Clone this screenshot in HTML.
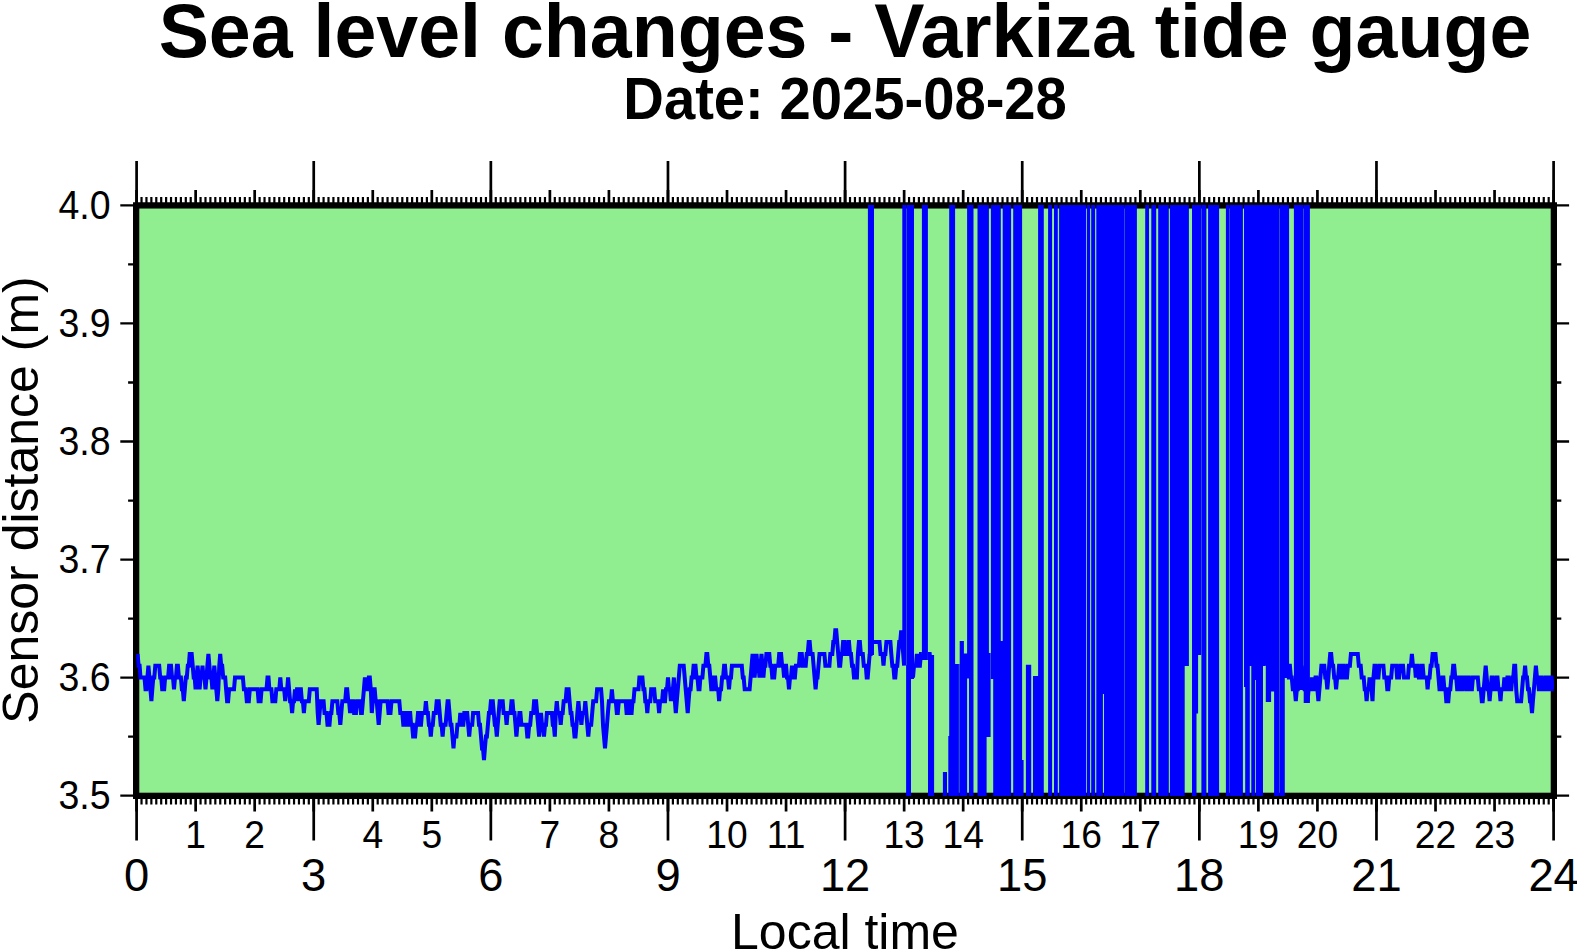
<!DOCTYPE html>
<html lang="en"><head><meta charset="utf-8"><title>Sea level changes - Varkiza tide gauge</title>
<style>html,body{margin:0;padding:0;background:#fff;overflow:hidden}svg{display:block}text{font-family:"Liberation Sans",Arial,Helvetica,sans-serif;fill:#000}</style></head><body>
<svg width="1577" height="950" viewBox="0 0 1577 950">
<rect width="1577" height="950" fill="#fff"/>
<!-- plot background -->
<rect x="136.6" y="205.3" width="1417.0" height="590.3" fill="#90ee90"/>
<!-- x-axis ticks: 5 min, 1 h, 3 h -->
<path d="M141.52 205.65v-8.6M141.52 795.95v8.6M146.44 205.65v-8.6M146.44 795.95v8.6M151.36 205.65v-8.6M151.36 795.95v8.6M156.28 205.65v-8.6M156.28 795.95v8.6M161.20 205.65v-8.6M161.20 795.95v8.6M166.12 205.65v-8.6M166.12 795.95v8.6M171.04 205.65v-8.6M171.04 795.95v8.6M175.96 205.65v-8.6M175.96 795.95v8.6M180.88 205.65v-8.6M180.88 795.95v8.6M185.80 205.65v-8.6M185.80 795.95v8.6M190.72 205.65v-8.6M190.72 795.95v8.6M200.56 205.65v-8.6M200.56 795.95v8.6M205.48 205.65v-8.6M205.48 795.95v8.6M210.40 205.65v-8.6M210.40 795.95v8.6M215.32 205.65v-8.6M215.32 795.95v8.6M220.24 205.65v-8.6M220.24 795.95v8.6M225.16 205.65v-8.6M225.16 795.95v8.6M230.08 205.65v-8.6M230.08 795.95v8.6M235.00 205.65v-8.6M235.00 795.95v8.6M239.92 205.65v-8.6M239.92 795.95v8.6M244.84 205.65v-8.6M244.84 795.95v8.6M249.76 205.65v-8.6M249.76 795.95v8.6M259.60 205.65v-8.6M259.60 795.95v8.6M264.52 205.65v-8.6M264.52 795.95v8.6M269.44 205.65v-8.6M269.44 795.95v8.6M274.36 205.65v-8.6M274.36 795.95v8.6M279.28 205.65v-8.6M279.28 795.95v8.6M284.20 205.65v-8.6M284.20 795.95v8.6M289.12 205.65v-8.6M289.12 795.95v8.6M294.04 205.65v-8.6M294.04 795.95v8.6M298.96 205.65v-8.6M298.96 795.95v8.6M303.88 205.65v-8.6M303.88 795.95v8.6M308.80 205.65v-8.6M308.80 795.95v8.6M318.65 205.65v-8.6M318.65 795.95v8.6M323.57 205.65v-8.6M323.57 795.95v8.6M328.49 205.65v-8.6M328.49 795.95v8.6M333.41 205.65v-8.6M333.41 795.95v8.6M338.33 205.65v-8.6M338.33 795.95v8.6M343.25 205.65v-8.6M343.25 795.95v8.6M348.17 205.65v-8.6M348.17 795.95v8.6M353.09 205.65v-8.6M353.09 795.95v8.6M358.01 205.65v-8.6M358.01 795.95v8.6M362.93 205.65v-8.6M362.93 795.95v8.6M367.85 205.65v-8.6M367.85 795.95v8.6M377.69 205.65v-8.6M377.69 795.95v8.6M382.61 205.65v-8.6M382.61 795.95v8.6M387.53 205.65v-8.6M387.53 795.95v8.6M392.45 205.65v-8.6M392.45 795.95v8.6M397.37 205.65v-8.6M397.37 795.95v8.6M402.29 205.65v-8.6M402.29 795.95v8.6M407.21 205.65v-8.6M407.21 795.95v8.6M412.13 205.65v-8.6M412.13 795.95v8.6M417.05 205.65v-8.6M417.05 795.95v8.6M421.97 205.65v-8.6M421.97 795.95v8.6M426.89 205.65v-8.6M426.89 795.95v8.6M436.73 205.65v-8.6M436.73 795.95v8.6M441.65 205.65v-8.6M441.65 795.95v8.6M446.57 205.65v-8.6M446.57 795.95v8.6M451.49 205.65v-8.6M451.49 795.95v8.6M456.41 205.65v-8.6M456.41 795.95v8.6M461.33 205.65v-8.6M461.33 795.95v8.6M466.25 205.65v-8.6M466.25 795.95v8.6M471.17 205.65v-8.6M471.17 795.95v8.6M476.09 205.65v-8.6M476.09 795.95v8.6M481.01 205.65v-8.6M481.01 795.95v8.6M485.93 205.65v-8.6M485.93 795.95v8.6M495.77 205.65v-8.6M495.77 795.95v8.6M500.69 205.65v-8.6M500.69 795.95v8.6M505.61 205.65v-8.6M505.61 795.95v8.6M510.53 205.65v-8.6M510.53 795.95v8.6M515.45 205.65v-8.6M515.45 795.95v8.6M520.37 205.65v-8.6M520.37 795.95v8.6M525.29 205.65v-8.6M525.29 795.95v8.6M530.21 205.65v-8.6M530.21 795.95v8.6M535.13 205.65v-8.6M535.13 795.95v8.6M540.05 205.65v-8.6M540.05 795.95v8.6M544.97 205.65v-8.6M544.97 795.95v8.6M554.81 205.65v-8.6M554.81 795.95v8.6M559.73 205.65v-8.6M559.73 795.95v8.6M564.65 205.65v-8.6M564.65 795.95v8.6M569.57 205.65v-8.6M569.57 795.95v8.6M574.49 205.65v-8.6M574.49 795.95v8.6M579.41 205.65v-8.6M579.41 795.95v8.6M584.33 205.65v-8.6M584.33 795.95v8.6M589.25 205.65v-8.6M589.25 795.95v8.6M594.17 205.65v-8.6M594.17 795.95v8.6M599.09 205.65v-8.6M599.09 795.95v8.6M604.01 205.65v-8.6M604.01 795.95v8.6M613.85 205.65v-8.6M613.85 795.95v8.6M618.77 205.65v-8.6M618.77 795.95v8.6M623.69 205.65v-8.6M623.69 795.95v8.6M628.61 205.65v-8.6M628.61 795.95v8.6M633.53 205.65v-8.6M633.53 795.95v8.6M638.45 205.65v-8.6M638.45 795.95v8.6M643.37 205.65v-8.6M643.37 795.95v8.6M648.29 205.65v-8.6M648.29 795.95v8.6M653.21 205.65v-8.6M653.21 795.95v8.6M658.13 205.65v-8.6M658.13 795.95v8.6M663.05 205.65v-8.6M663.05 795.95v8.6M672.90 205.65v-8.6M672.90 795.95v8.6M677.82 205.65v-8.6M677.82 795.95v8.6M682.74 205.65v-8.6M682.74 795.95v8.6M687.66 205.65v-8.6M687.66 795.95v8.6M692.58 205.65v-8.6M692.58 795.95v8.6M697.50 205.65v-8.6M697.50 795.95v8.6M702.42 205.65v-8.6M702.42 795.95v8.6M707.34 205.65v-8.6M707.34 795.95v8.6M712.26 205.65v-8.6M712.26 795.95v8.6M717.18 205.65v-8.6M717.18 795.95v8.6M722.10 205.65v-8.6M722.10 795.95v8.6M731.94 205.65v-8.6M731.94 795.95v8.6M736.86 205.65v-8.6M736.86 795.95v8.6M741.78 205.65v-8.6M741.78 795.95v8.6M746.70 205.65v-8.6M746.70 795.95v8.6M751.62 205.65v-8.6M751.62 795.95v8.6M756.54 205.65v-8.6M756.54 795.95v8.6M761.46 205.65v-8.6M761.46 795.95v8.6M766.38 205.65v-8.6M766.38 795.95v8.6M771.30 205.65v-8.6M771.30 795.95v8.6M776.22 205.65v-8.6M776.22 795.95v8.6M781.14 205.65v-8.6M781.14 795.95v8.6M790.98 205.65v-8.6M790.98 795.95v8.6M795.90 205.65v-8.6M795.90 795.95v8.6M800.82 205.65v-8.6M800.82 795.95v8.6M805.74 205.65v-8.6M805.74 795.95v8.6M810.66 205.65v-8.6M810.66 795.95v8.6M815.58 205.65v-8.6M815.58 795.95v8.6M820.50 205.65v-8.6M820.50 795.95v8.6M825.42 205.65v-8.6M825.42 795.95v8.6M830.34 205.65v-8.6M830.34 795.95v8.6M835.26 205.65v-8.6M835.26 795.95v8.6M840.18 205.65v-8.6M840.18 795.95v8.6M850.02 205.65v-8.6M850.02 795.95v8.6M854.94 205.65v-8.6M854.94 795.95v8.6M859.86 205.65v-8.6M859.86 795.95v8.6M864.78 205.65v-8.6M864.78 795.95v8.6M869.70 205.65v-8.6M869.70 795.95v8.6M874.62 205.65v-8.6M874.62 795.95v8.6M879.54 205.65v-8.6M879.54 795.95v8.6M884.46 205.65v-8.6M884.46 795.95v8.6M889.38 205.65v-8.6M889.38 795.95v8.6M894.30 205.65v-8.6M894.30 795.95v8.6M899.22 205.65v-8.6M899.22 795.95v8.6M909.06 205.65v-8.6M909.06 795.95v8.6M913.98 205.65v-8.6M913.98 795.95v8.6M918.90 205.65v-8.6M918.90 795.95v8.6M923.82 205.65v-8.6M923.82 795.95v8.6M928.74 205.65v-8.6M928.74 795.95v8.6M933.66 205.65v-8.6M933.66 795.95v8.6M938.58 205.65v-8.6M938.58 795.95v8.6M943.50 205.65v-8.6M943.50 795.95v8.6M948.42 205.65v-8.6M948.42 795.95v8.6M953.34 205.65v-8.6M953.34 795.95v8.6M958.26 205.65v-8.6M958.26 795.95v8.6M968.10 205.65v-8.6M968.10 795.95v8.6M973.02 205.65v-8.6M973.02 795.95v8.6M977.94 205.65v-8.6M977.94 795.95v8.6M982.86 205.65v-8.6M982.86 795.95v8.6M987.78 205.65v-8.6M987.78 795.95v8.6M992.70 205.65v-8.6M992.70 795.95v8.6M997.62 205.65v-8.6M997.62 795.95v8.6M1002.54 205.65v-8.6M1002.54 795.95v8.6M1007.46 205.65v-8.6M1007.46 795.95v8.6M1012.38 205.65v-8.6M1012.38 795.95v8.6M1017.30 205.65v-8.6M1017.30 795.95v8.6M1027.15 205.65v-8.6M1027.15 795.95v8.6M1032.07 205.65v-8.6M1032.07 795.95v8.6M1036.99 205.65v-8.6M1036.99 795.95v8.6M1041.91 205.65v-8.6M1041.91 795.95v8.6M1046.83 205.65v-8.6M1046.83 795.95v8.6M1051.75 205.65v-8.6M1051.75 795.95v8.6M1056.67 205.65v-8.6M1056.67 795.95v8.6M1061.59 205.65v-8.6M1061.59 795.95v8.6M1066.51 205.65v-8.6M1066.51 795.95v8.6M1071.43 205.65v-8.6M1071.43 795.95v8.6M1076.35 205.65v-8.6M1076.35 795.95v8.6M1086.19 205.65v-8.6M1086.19 795.95v8.6M1091.11 205.65v-8.6M1091.11 795.95v8.6M1096.03 205.65v-8.6M1096.03 795.95v8.6M1100.95 205.65v-8.6M1100.95 795.95v8.6M1105.87 205.65v-8.6M1105.87 795.95v8.6M1110.79 205.65v-8.6M1110.79 795.95v8.6M1115.71 205.65v-8.6M1115.71 795.95v8.6M1120.63 205.65v-8.6M1120.63 795.95v8.6M1125.55 205.65v-8.6M1125.55 795.95v8.6M1130.47 205.65v-8.6M1130.47 795.95v8.6M1135.39 205.65v-8.6M1135.39 795.95v8.6M1145.23 205.65v-8.6M1145.23 795.95v8.6M1150.15 205.65v-8.6M1150.15 795.95v8.6M1155.07 205.65v-8.6M1155.07 795.95v8.6M1159.99 205.65v-8.6M1159.99 795.95v8.6M1164.91 205.65v-8.6M1164.91 795.95v8.6M1169.83 205.65v-8.6M1169.83 795.95v8.6M1174.75 205.65v-8.6M1174.75 795.95v8.6M1179.67 205.65v-8.6M1179.67 795.95v8.6M1184.59 205.65v-8.6M1184.59 795.95v8.6M1189.51 205.65v-8.6M1189.51 795.95v8.6M1194.43 205.65v-8.6M1194.43 795.95v8.6M1204.27 205.65v-8.6M1204.27 795.95v8.6M1209.19 205.65v-8.6M1209.19 795.95v8.6M1214.11 205.65v-8.6M1214.11 795.95v8.6M1219.03 205.65v-8.6M1219.03 795.95v8.6M1223.95 205.65v-8.6M1223.95 795.95v8.6M1228.87 205.65v-8.6M1228.87 795.95v8.6M1233.79 205.65v-8.6M1233.79 795.95v8.6M1238.71 205.65v-8.6M1238.71 795.95v8.6M1243.63 205.65v-8.6M1243.63 795.95v8.6M1248.55 205.65v-8.6M1248.55 795.95v8.6M1253.47 205.65v-8.6M1253.47 795.95v8.6M1263.31 205.65v-8.6M1263.31 795.95v8.6M1268.23 205.65v-8.6M1268.23 795.95v8.6M1273.15 205.65v-8.6M1273.15 795.95v8.6M1278.07 205.65v-8.6M1278.07 795.95v8.6M1282.99 205.65v-8.6M1282.99 795.95v8.6M1287.91 205.65v-8.6M1287.91 795.95v8.6M1292.83 205.65v-8.6M1292.83 795.95v8.6M1297.75 205.65v-8.6M1297.75 795.95v8.6M1302.67 205.65v-8.6M1302.67 795.95v8.6M1307.59 205.65v-8.6M1307.59 795.95v8.6M1312.51 205.65v-8.6M1312.51 795.95v8.6M1322.35 205.65v-8.6M1322.35 795.95v8.6M1327.27 205.65v-8.6M1327.27 795.95v8.6M1332.19 205.65v-8.6M1332.19 795.95v8.6M1337.11 205.65v-8.6M1337.11 795.95v8.6M1342.03 205.65v-8.6M1342.03 795.95v8.6M1346.95 205.65v-8.6M1346.95 795.95v8.6M1351.87 205.65v-8.6M1351.87 795.95v8.6M1356.79 205.65v-8.6M1356.79 795.95v8.6M1361.71 205.65v-8.6M1361.71 795.95v8.6M1366.63 205.65v-8.6M1366.63 795.95v8.6M1371.55 205.65v-8.6M1371.55 795.95v8.6M1381.40 205.65v-8.6M1381.40 795.95v8.6M1386.32 205.65v-8.6M1386.32 795.95v8.6M1391.24 205.65v-8.6M1391.24 795.95v8.6M1396.16 205.65v-8.6M1396.16 795.95v8.6M1401.08 205.65v-8.6M1401.08 795.95v8.6M1406.00 205.65v-8.6M1406.00 795.95v8.6M1410.92 205.65v-8.6M1410.92 795.95v8.6M1415.84 205.65v-8.6M1415.84 795.95v8.6M1420.76 205.65v-8.6M1420.76 795.95v8.6M1425.68 205.65v-8.6M1425.68 795.95v8.6M1430.60 205.65v-8.6M1430.60 795.95v8.6M1440.44 205.65v-8.6M1440.44 795.95v8.6M1445.36 205.65v-8.6M1445.36 795.95v8.6M1450.28 205.65v-8.6M1450.28 795.95v8.6M1455.20 205.65v-8.6M1455.20 795.95v8.6M1460.12 205.65v-8.6M1460.12 795.95v8.6M1465.04 205.65v-8.6M1465.04 795.95v8.6M1469.96 205.65v-8.6M1469.96 795.95v8.6M1474.88 205.65v-8.6M1474.88 795.95v8.6M1479.80 205.65v-8.6M1479.80 795.95v8.6M1484.72 205.65v-8.6M1484.72 795.95v8.6M1489.64 205.65v-8.6M1489.64 795.95v8.6M1499.48 205.65v-8.6M1499.48 795.95v8.6M1504.40 205.65v-8.6M1504.40 795.95v8.6M1509.32 205.65v-8.6M1509.32 795.95v8.6M1514.24 205.65v-8.6M1514.24 795.95v8.6M1519.16 205.65v-8.6M1519.16 795.95v8.6M1524.08 205.65v-8.6M1524.08 795.95v8.6M1529.00 205.65v-8.6M1529.00 795.95v8.6M1533.92 205.65v-8.6M1533.92 795.95v8.6M1538.84 205.65v-8.6M1538.84 795.95v8.6M1543.76 205.65v-8.6M1543.76 795.95v8.6M1548.68 205.65v-8.6M1548.68 795.95v8.6" stroke="#000" stroke-width="2.2" fill="none"/>
<path d="M195.64 205.65v-15.6M195.64 795.95v15.6M254.68 205.65v-15.6M254.68 795.95v15.6M372.77 205.65v-15.6M372.77 795.95v15.6M431.81 205.65v-15.6M431.81 795.95v15.6M549.89 205.65v-15.6M549.89 795.95v15.6M608.93 205.65v-15.6M608.93 795.95v15.6M727.02 205.65v-15.6M727.02 795.95v15.6M786.06 205.65v-15.6M786.06 795.95v15.6M904.14 205.65v-15.6M904.14 795.95v15.6M963.18 205.65v-15.6M963.18 795.95v15.6M1081.27 205.65v-15.6M1081.27 795.95v15.6M1140.31 205.65v-15.6M1140.31 795.95v15.6M1258.39 205.65v-15.6M1258.39 795.95v15.6M1317.43 205.65v-15.6M1317.43 795.95v15.6M1435.52 205.65v-15.6M1435.52 795.95v15.6M1494.56 205.65v-15.6M1494.56 795.95v15.6M136.60 205.65v-15.6M136.60 795.95v15.6M313.73 205.65v-15.6M313.73 795.95v15.6M490.85 205.65v-15.6M490.85 795.95v15.6M667.98 205.65v-15.6M667.98 795.95v15.6M845.10 205.65v-15.6M845.10 795.95v15.6M1022.23 205.65v-15.6M1022.23 795.95v15.6M1199.35 205.65v-15.6M1199.35 795.95v15.6M1376.47 205.65v-15.6M1376.47 795.95v15.6M1553.60 205.65v-15.6M1553.60 795.95v15.6" stroke="#000" stroke-width="2.7" fill="none"/>
<path d="M136.60 205.65v-44.6M136.60 795.95v44.6M313.73 205.65v-44.6M313.73 795.95v44.6M490.85 205.65v-44.6M490.85 795.95v44.6M667.98 205.65v-44.6M667.98 795.95v44.6M845.10 205.65v-44.6M845.10 795.95v44.6M1022.23 205.65v-44.6M1022.23 795.95v44.6M1199.35 205.65v-44.6M1199.35 795.95v44.6M1376.47 205.65v-44.6M1376.47 795.95v44.6M1553.60 205.65v-44.6M1553.60 795.95v44.6" stroke="#000" stroke-width="2.7" fill="none"/>
<!-- y-axis ticks -->
<path d="M136.6 795.70h-16.3M1553.6 795.70h15.5M136.6 736.67h-8.5M1553.6 736.67h7.7M136.6 677.64h-16.3M1553.6 677.64h15.5M136.6 618.61h-8.5M1553.6 618.61h7.7M136.6 559.58h-16.3M1553.6 559.58h15.5M136.6 500.55h-8.5M1553.6 500.55h7.7M136.6 441.52h-16.3M1553.6 441.52h15.5M136.6 382.49h-8.5M1553.6 382.49h7.7M136.6 323.46h-16.3M1553.6 323.46h15.5M136.6 264.43h-8.5M1553.6 264.43h7.7M136.6 205.40h-16.3M1553.6 205.40h15.5" stroke="#000" stroke-width="2.3" fill="none"/>
<rect x="136.15" y="205.4" width="1417.70" height="590.45" fill="none" stroke="#000" stroke-width="6.3"/>
<!-- sensor data -->
<clipPath id="c"><rect x="136.2" y="204.9" width="1417.8" height="591.1"/></clipPath>
<g clip-path="url(#c)">
<path d="M867.9 203.3H874.0V655.0H867.9zM902.3 203.3H906.3V665.0H902.3zM906.1 665.0H906.9V797.6H906.1zM906.6 203.3H911.0V797.6H906.6zM911.0 203.3H914.0V679.0H911.0zM921.9 203.3H927.9V660.0H921.9zM928.0 655.0H934.1V797.6H928.0zM942.9 772.0H947.0V797.6H942.9zM948.3 736.0H949.2V797.6H948.3zM949.2 203.3H955.1V797.6H949.2zM955.1 664.0H958.9V797.6H955.1zM959.1 664.0H959.5V797.6H959.1zM959.7 641.0H963.9V797.6H959.7zM963.9 653.4H967.1V797.6H963.9zM967.1 203.3H969.0V678.6H967.1zM969.0 203.3H973.5V797.6H969.0zM977.5 203.3H986.6V797.6H977.5zM986.6 203.3H988.9V737.0H986.6zM988.9 653.0H990.6V737.0H988.9zM990.9 203.3H993.2V679.0H990.9zM993.2 203.3H1000.8V797.6H993.2zM1000.8 641.0H1002.7V797.6H1000.8zM1002.7 203.3H1011.1V797.6H1002.7zM1013.2 203.3H1022.1V797.6H1013.2zM1022.1 760.0H1023.6V797.6H1022.1zM1025.9 664.7H1031.2V797.6H1025.9zM1033.0 676.0H1038.1V797.6H1033.0zM1038.1 203.3H1043.8V797.6H1038.1zM1048.1 203.3H1052.1V797.6H1048.1zM1054.0 203.3H1057.8V797.6H1054.0zM1059.1 203.3H1086.0V797.6H1059.1zM1086.8 203.3H1090.1V797.6H1086.8zM1091.3 203.3H1095.1V797.6H1091.3zM1096.3 203.3H1100.0V797.6H1096.3zM1091.2 203.3H1095.0V797.6H1091.2zM1096.4 203.3H1102.9V797.6H1096.4zM1102.9 203.3H1104.0V694.0H1102.9zM1104.0 203.3H1124.2V797.6H1104.0zM1124.5 203.3H1136.9V797.6H1124.5zM1145.2 203.3H1149.0V797.6H1145.2zM1151.3 203.3H1156.2V797.6H1151.3zM1158.2 203.3H1168.8V797.6H1158.2zM1169.9 203.3H1184.7V797.6H1169.9zM1184.7 203.3H1188.9V666.0H1184.7zM1192.0 203.3H1196.5V797.6H1192.0zM1196.5 203.3H1198.1V713.6H1196.5zM1198.1 203.3H1201.1V655.0H1198.1zM1201.1 203.3H1201.7V797.6H1201.1zM1202.0 203.3H1206.4V797.6H1202.0zM1208.1 203.3H1219.1V797.6H1208.1zM1225.9 203.3H1229.1V797.6H1225.9zM1229.4 203.3H1242.9V797.6H1229.4zM1244.0 203.3H1245.2V687.0H1244.0zM1245.2 203.3H1249.8V797.6H1245.2zM1249.8 203.3H1251.3V666.0H1249.8zM1251.3 203.3H1255.1V797.6H1251.3zM1255.1 203.3H1255.9V680.0H1255.1zM1255.9 203.3H1263.0V797.6H1255.9zM1263.0 203.3H1265.8V666.0H1263.0zM1265.8 203.3H1271.1V702.0H1265.8zM1271.1 203.3H1274.1V691.6H1271.1zM1274.1 203.3H1279.3V797.6H1274.1zM1279.6 203.3H1284.8V797.6H1279.6zM1284.8 203.3H1289.1V678.0H1284.8zM1293.9 203.3H1303.4V690.0H1293.9zM1303.7 203.3H1309.9V703.0H1303.7z" fill="#0000ff"/>
<polyline points="137.6,653.9 138.6,665.7 139.6,665.7 140.5,677.5 144.5,677.5 145.5,689.3 146.4,689.3 147.4,677.5 148.4,665.7 149.4,677.5 150.4,689.3 151.4,701.2 152.3,689.3 153.3,677.5 154.3,677.5 155.3,665.7 159.2,665.7 160.2,677.5 161.2,677.5 162.2,689.3 164.2,689.3 165.1,677.5 168.1,677.5 169.1,665.7 171.0,665.7 172.0,677.5 173.0,677.5 174.0,689.3 175.0,677.5 176.0,677.5 176.9,665.7 177.9,665.7 178.9,677.5 180.9,677.5 181.9,689.3 182.8,689.3 183.8,701.2 184.8,689.3 185.8,677.5 186.8,677.5 187.8,665.7 188.8,665.7 189.7,653.9 191.7,653.9 192.7,665.7 193.7,677.5 194.7,677.5 195.6,689.3 196.6,677.5 197.6,665.7 198.6,677.5 199.6,689.3 200.6,677.5 201.5,677.5 202.5,665.7 203.5,677.5 204.5,677.5 205.5,689.3 206.5,677.5 207.4,665.7 208.4,653.9 209.4,665.7 210.4,677.5 211.4,677.5 212.4,689.3 213.4,677.5 214.3,665.7 215.3,677.5 216.3,689.3 217.3,701.2 218.3,689.3 219.3,665.7 220.2,653.9 221.2,665.7 222.2,665.7 223.2,677.5 225.2,677.5 226.1,689.3 227.1,701.2 228.1,701.2 229.1,689.3 234.0,689.3 235.0,677.5 242.9,677.5 243.9,689.3 245.8,689.3 246.8,701.2 248.8,701.2 249.8,689.3 257.6,689.3 258.6,701.2 260.6,701.2 261.6,689.3 266.5,689.3 267.5,677.5 268.5,677.5 269.4,689.3 271.4,689.3 272.4,701.2 275.3,701.2 276.3,689.3 279.3,689.3 280.3,677.5 281.3,689.3 284.2,689.3 285.2,701.2 286.2,689.3 287.2,689.3 288.1,677.5 289.1,689.3 290.1,701.2 291.1,701.2 292.1,713.0 293.1,701.2 294.0,701.2 295.0,689.3 296.0,701.2 297.0,689.3 298.0,689.3 299.0,701.2 299.9,689.3 300.9,689.3 301.9,701.2 302.9,701.2 303.9,713.0 304.9,701.2 308.8,701.2 309.8,689.3 316.7,689.3 317.7,713.0 318.6,724.8 319.6,713.0 320.6,701.2 323.6,701.2 324.5,713.0 326.5,713.0 327.5,724.8 329.5,724.8 330.5,713.0 331.4,713.0 332.4,701.2 337.3,701.2 338.3,713.0 339.3,713.0 340.3,724.8 341.3,713.0 342.3,701.2 345.2,701.2 346.2,689.3 347.2,689.3 348.2,701.2 349.1,701.2 350.1,713.0 351.1,701.2 353.1,701.2 354.1,713.0 356.0,713.0 357.0,701.2 360.0,701.2 361.0,713.0 361.9,713.0 362.9,701.2 363.9,689.3 364.9,677.5 365.9,689.3 367.8,689.3 368.8,677.5 369.8,677.5 370.8,689.3 371.8,713.0 372.8,701.2 373.8,689.3 374.7,689.3 375.7,701.2 376.7,701.2 377.7,713.0 378.7,724.8 379.7,713.0 380.6,701.2 387.5,701.2 388.5,713.0 390.5,713.0 391.5,701.2 399.3,701.2 400.3,713.0 402.3,713.0 403.3,724.8 404.3,724.8 405.2,713.0 406.2,713.0 407.2,724.8 408.2,724.8 409.2,713.0 410.2,713.0 411.1,724.8 412.1,724.8 413.1,736.6 415.1,736.6 416.1,724.8 417.0,724.8 418.0,713.0 419.0,713.0 420.0,724.8 421.0,724.8 422.0,713.0 424.9,713.0 425.9,701.2 426.9,713.0 427.9,713.0 428.9,724.8 429.8,724.8 430.8,736.6 431.8,724.8 432.8,724.8 433.8,713.0 435.7,713.0 436.7,701.2 438.7,701.2 439.7,713.0 440.7,724.8 441.6,724.8 442.6,736.6 443.6,724.8 445.6,724.8 446.6,713.0 447.6,701.2 448.5,701.2 449.5,713.0 450.5,724.8 451.5,724.8 452.5,736.6 453.5,748.4 454.4,736.6 456.4,736.6 457.4,724.8 459.4,724.8 460.3,713.0 461.3,724.8 463.3,724.8 464.3,713.0 467.2,713.0 468.2,724.8 469.2,736.6 470.2,724.8 472.2,724.8 473.1,713.0 478.1,713.0 479.0,724.8 480.0,724.8 481.0,736.6 482.0,748.4 483.0,748.4 484.0,760.2 484.9,748.4 485.9,736.6 486.9,736.6 487.9,724.8 488.9,713.0 489.9,713.0 490.9,701.2 492.8,701.2 493.8,713.0 494.8,724.8 495.8,724.8 496.8,736.6 497.7,724.8 498.7,713.0 499.7,701.2 502.7,701.2 503.6,713.0 505.6,713.0 506.6,724.8 507.6,713.0 510.5,713.0 511.5,701.2 512.5,701.2 513.5,713.0 514.5,713.0 515.5,724.8 516.4,736.6 517.4,724.8 518.4,724.8 519.4,713.0 520.4,713.0 521.4,724.8 526.3,724.8 527.3,736.6 528.2,736.6 529.2,724.8 530.2,724.8 531.2,713.0 533.2,713.0 534.1,701.2 536.1,701.2 537.1,713.0 538.1,724.8 539.1,736.6 540.1,724.8 541.0,713.0 542.0,724.8 543.0,724.8 544.0,736.6 545.0,724.8 546.0,724.8 546.9,713.0 551.9,713.0 552.8,724.8 553.8,724.8 554.8,736.6 555.8,713.0 556.8,701.2 557.8,713.0 559.7,713.0 560.7,724.8 561.7,713.0 562.7,713.0 563.7,701.2 565.6,701.2 566.6,689.3 568.6,689.3 569.6,701.2 570.6,713.0 571.5,713.0 572.5,724.8 573.5,724.8 574.5,736.6 575.5,736.6 576.5,724.8 577.4,713.0 578.4,701.2 579.4,713.0 580.4,713.0 581.4,724.8 582.4,713.0 584.3,713.0 585.3,701.2 586.3,713.0 587.3,724.8 588.3,736.6 589.3,724.8 591.2,724.8 592.2,713.0 593.2,701.2 596.1,701.2 597.1,689.3 601.1,689.3 602.0,701.2 603.0,724.8 604.0,736.6 605.0,748.4 606.0,736.6 607.0,724.8 607.9,713.0 608.9,701.2 610.9,701.2 611.9,689.3 612.9,701.2 615.8,701.2 616.8,713.0 617.8,713.0 618.8,701.2 625.7,701.2 626.6,713.0 627.6,713.0 628.6,701.2 629.6,701.2 630.6,713.0 631.6,713.0 632.5,701.2 633.5,701.2 634.5,689.3 638.5,689.3 639.4,677.5 642.4,677.5 643.4,689.3 644.4,689.3 645.3,701.2 646.3,701.2 647.3,713.0 648.3,701.2 650.3,701.2 651.2,689.3 654.2,689.3 655.2,701.2 658.1,701.2 659.1,713.0 660.1,701.2 662.1,701.2 663.1,689.3 664.0,701.2 665.0,701.2 666.0,689.3 667.0,689.3 668.0,677.5 669.0,689.3 669.9,689.3 670.9,701.2 671.9,689.3 672.9,689.3 673.9,677.5 674.9,701.2 675.8,713.0 676.8,701.2 677.8,689.3 678.8,677.5 679.8,665.7 683.7,665.7 684.7,677.5 685.7,689.3 686.7,701.2 687.7,713.0 688.6,701.2 689.6,689.3 690.6,689.3 691.6,677.5 692.6,677.5 693.6,665.7 695.5,665.7 696.5,677.5 697.5,677.5 698.5,689.3 699.5,689.3 700.4,677.5 702.4,677.5 703.4,665.7 705.4,665.7 706.4,653.9 707.3,653.9 708.3,665.7 709.3,665.7 710.3,677.5 711.3,689.3 712.3,689.3 713.2,677.5 715.2,677.5 716.2,689.3 718.2,689.3 719.1,701.2 720.1,689.3 721.1,689.3 722.1,677.5 723.1,677.5 724.1,665.7 725.0,665.7 726.0,677.5 728.0,677.5 729.0,689.3 730.0,677.5 731.0,677.5 731.9,665.7 741.8,665.7 742.8,677.5 743.7,677.5 744.7,689.3 749.6,689.3 750.6,677.5 751.6,665.7 752.6,653.9 753.6,665.7 754.6,677.5 755.6,665.7 756.5,653.9 757.5,665.7 758.5,665.7 759.5,677.5 760.5,665.7 761.5,653.9 762.4,665.7 763.4,677.5 764.4,665.7 765.4,665.7 766.4,653.9 769.3,653.9 770.3,665.7 771.3,665.7 772.3,677.5 774.2,677.5 775.2,665.7 778.2,665.7 779.2,653.9 781.1,653.9 782.1,665.7 783.1,665.7 784.1,677.5 785.1,665.7 786.1,665.7 787.0,677.5 788.0,677.5 789.0,689.3 790.0,677.5 791.0,677.5 792.0,665.7 792.9,677.5 794.9,677.5 795.9,665.7 798.9,665.7 799.8,653.9 801.8,653.9 802.8,665.7 805.7,665.7 806.7,653.9 807.7,653.9 808.7,642.1 809.7,642.1 810.7,653.9 812.6,653.9 813.6,665.7 814.6,677.5 815.6,689.3 816.6,677.5 817.5,677.5 818.5,665.7 819.5,653.9 824.4,653.9 825.4,665.7 829.4,665.7 830.3,653.9 832.3,653.9 833.3,642.1 834.3,642.1 835.3,630.3 836.2,630.3 837.2,642.1 838.2,653.9 839.2,665.7 840.2,665.7 841.2,653.9 842.1,653.9 843.1,642.1 844.1,642.1 845.1,653.9 847.1,653.9 848.1,642.1 849.0,642.1 850.0,653.9 851.0,653.9 852.0,665.7 853.0,665.7 854.0,677.5 856.9,677.5 857.9,653.9 858.9,642.1 859.9,642.1 860.8,653.9 862.8,653.9 863.8,665.7 865.8,665.7 866.7,677.5 867.7,677.5 868.7,665.7 869.7,653.9" fill="none" stroke="#0000ff" stroke-width="4" stroke-linejoin="miter" stroke-miterlimit="3.33"/>
<polyline points="868.7,653.9 870.7,653.9 871.7,642.1 879.5,642.1 880.5,653.9 882.5,653.9 883.5,665.7 884.5,653.9 885.4,653.9 886.4,642.1 890.4,642.1 891.3,653.9 892.3,665.7 893.3,665.7 894.3,677.5 895.3,677.5 896.3,665.7 897.3,665.7 898.2,653.9 899.2,642.1 900.2,642.1 901.2,630.3 902.2,642.1 903.2,653.9 904.1,665.7" fill="none" stroke="#0000ff" stroke-width="4" stroke-linejoin="miter" stroke-miterlimit="3.33"/>
<polyline points="913.0,677.5 914.0,665.7 915.9,665.7 916.9,653.9 917.9,665.7 919.9,665.7 920.9,653.9 921.9,653.9" fill="none" stroke="#0000ff" stroke-width="4" stroke-linejoin="miter" stroke-miterlimit="3.33"/>
<polyline points="927.8,653.9 929.7,653.9 930.7,665.7 932.7,665.7" fill="none" stroke="#0000ff" stroke-width="4" stroke-linejoin="miter" stroke-miterlimit="3.33"/>
<polyline points="1286.9,677.5 1287.9,677.5 1288.9,665.7 1289.9,665.7 1290.9,677.5 1291.8,677.5 1292.8,689.3 1294.8,689.3 1295.8,701.2 1296.8,689.3 1297.8,689.3 1298.7,677.5 1300.7,677.5 1301.7,665.7 1302.7,677.5 1303.7,677.5 1304.6,689.3 1306.6,689.3 1307.6,701.2 1308.6,689.3 1310.5,689.3 1311.5,677.5 1312.5,689.3 1314.5,689.3 1315.5,677.5 1316.4,677.5 1317.4,689.3 1318.4,701.2 1319.4,689.3 1320.4,677.5 1321.4,665.7 1324.3,665.7 1325.3,677.5 1326.3,677.5 1327.3,689.3 1328.3,677.5 1329.2,665.7 1330.2,653.9 1331.2,653.9 1332.2,665.7 1333.2,665.7 1334.2,677.5 1335.1,677.5 1336.1,689.3 1337.1,677.5 1338.1,677.5 1339.1,665.7 1340.1,665.7 1341.0,677.5 1342.0,677.5 1343.0,665.7 1344.0,665.7 1345.0,677.5 1347.0,677.5 1347.9,665.7 1349.9,665.7 1350.9,653.9 1357.8,653.9 1358.8,665.7 1360.7,665.7 1361.7,677.5 1363.7,677.5 1364.7,689.3 1365.7,689.3 1366.6,701.2 1367.6,689.3 1368.6,689.3 1369.6,677.5 1370.6,689.3 1371.6,689.3 1372.5,701.2 1373.5,677.5 1374.5,665.7 1375.5,665.7 1376.5,677.5 1378.4,677.5 1379.4,665.7 1383.4,665.7 1384.3,677.5 1386.3,677.5 1387.3,689.3 1388.3,689.3 1389.3,677.5 1391.2,677.5 1392.2,665.7 1396.2,665.7 1397.1,677.5 1399.1,677.5 1400.1,665.7 1403.0,665.7 1404.0,677.5 1408.0,677.5 1408.9,665.7 1410.9,665.7 1411.9,653.9 1412.9,665.7 1414.9,665.7 1415.8,677.5 1416.8,665.7 1417.8,665.7 1418.8,677.5 1420.8,677.5 1421.7,665.7 1422.7,665.7 1423.7,677.5 1426.7,677.5 1427.6,689.3 1428.6,677.5 1429.6,677.5 1430.6,665.7 1431.6,665.7 1432.6,653.9 1435.5,653.9 1436.5,665.7 1437.5,665.7 1438.5,677.5 1439.5,689.3 1441.4,689.3 1442.4,677.5 1443.4,677.5 1444.4,689.3 1445.4,689.3 1446.3,701.2 1448.3,701.2 1449.3,689.3 1450.3,689.3 1451.3,677.5 1452.2,677.5 1453.2,665.7 1454.2,665.7 1455.2,677.5 1456.2,677.5 1457.2,689.3 1458.1,689.3 1459.1,677.5 1460.1,677.5 1461.1,689.3 1462.1,689.3 1463.1,677.5 1465.0,677.5 1466.0,689.3 1467.0,689.3 1468.0,677.5 1469.0,677.5 1470.0,689.3 1471.9,689.3 1472.9,677.5 1477.8,677.5 1478.8,689.3 1480.8,689.3 1481.8,701.2 1482.7,701.2 1483.7,689.3 1484.7,677.5 1485.7,665.7 1486.7,677.5 1487.7,689.3 1488.7,689.3 1489.6,701.2 1490.6,689.3 1491.6,677.5 1492.6,677.5 1493.6,689.3 1495.5,689.3 1496.5,677.5 1497.5,677.5 1498.5,689.3 1499.5,689.3 1500.5,701.2 1501.4,689.3 1503.4,689.3 1504.4,677.5 1505.4,689.3 1506.4,689.3 1507.4,677.5 1508.3,677.5 1509.3,689.3 1511.3,689.3 1512.3,677.5 1513.3,677.5 1514.2,665.7 1515.2,665.7 1516.2,689.3 1517.2,701.2 1521.1,701.2 1522.1,689.3 1523.1,677.5 1524.1,677.5 1525.1,665.7 1526.0,677.5 1527.0,677.5 1528.0,689.3 1529.0,689.3 1530.0,701.2 1531.0,701.2 1532.0,713.0 1532.9,701.2 1533.9,689.3 1534.9,677.5 1535.9,665.7 1536.9,677.5 1537.9,677.5 1538.8,689.3 1539.8,689.3 1540.8,677.5 1541.8,677.5 1542.8,689.3 1544.7,689.3 1545.7,677.5 1546.7,677.5 1547.7,689.3 1548.7,689.3 1549.7,677.5 1551.6,677.5 1552.6,689.3 1553.6,689.3" fill="none" stroke="#0000ff" stroke-width="4" stroke-linejoin="miter" stroke-miterlimit="3.33"/>
</g>
<text x="845" y="57.2" text-anchor="middle" font-size="75.3" font-weight="bold">Sea level changes - Varkiza tide gauge</text>
<text transform="translate(845.1,118.5) scale(1,1.05)" text-anchor="middle" font-size="56.2" font-weight="bold">Date: 2025-08-28</text>
<text transform="translate(110.5,809.2) scale(1,1.06)" text-anchor="end" font-size="37.5">3.5</text>
<text transform="translate(110.5,691.1) scale(1,1.06)" text-anchor="end" font-size="37.5">3.6</text>
<text transform="translate(110.5,573.1) scale(1,1.06)" text-anchor="end" font-size="37.5">3.7</text>
<text transform="translate(110.5,455.0) scale(1,1.06)" text-anchor="end" font-size="37.5">3.8</text>
<text transform="translate(110.5,337.0) scale(1,1.06)" text-anchor="end" font-size="37.5">3.9</text>
<text transform="translate(110.5,218.9) scale(1,1.06)" text-anchor="end" font-size="37.5">4.0</text>
<text transform="translate(136.6,891.2) scale(1,1.0)" text-anchor="middle" font-size="45.3">0</text>
<text transform="translate(195.6,848.3) scale(1,1.06)" text-anchor="middle" font-size="37.2">1</text>
<text transform="translate(254.7,848.3) scale(1,1.06)" text-anchor="middle" font-size="37.2">2</text>
<text transform="translate(313.7,891.2) scale(1,1.0)" text-anchor="middle" font-size="45.3">3</text>
<text transform="translate(372.8,848.3) scale(1,1.06)" text-anchor="middle" font-size="37.2">4</text>
<text transform="translate(431.8,848.3) scale(1,1.06)" text-anchor="middle" font-size="37.2">5</text>
<text transform="translate(490.9,891.2) scale(1,1.0)" text-anchor="middle" font-size="45.3">6</text>
<text transform="translate(549.9,848.3) scale(1,1.06)" text-anchor="middle" font-size="37.2">7</text>
<text transform="translate(608.9,848.3) scale(1,1.06)" text-anchor="middle" font-size="37.2">8</text>
<text transform="translate(668.0,891.2) scale(1,1.0)" text-anchor="middle" font-size="45.3">9</text>
<text transform="translate(727.0,848.3) scale(1,1.06)" text-anchor="middle" font-size="37.2">10</text>
<text transform="translate(786.1,848.3) scale(1,1.06)" text-anchor="middle" font-size="37.2">11</text>
<text transform="translate(845.1,891.2) scale(1,1.0)" text-anchor="middle" font-size="45.3">12</text>
<text transform="translate(904.1,848.3) scale(1,1.06)" text-anchor="middle" font-size="37.2">13</text>
<text transform="translate(963.2,848.3) scale(1,1.06)" text-anchor="middle" font-size="37.2">14</text>
<text transform="translate(1022.2,891.2) scale(1,1.0)" text-anchor="middle" font-size="45.3">15</text>
<text transform="translate(1081.3,848.3) scale(1,1.06)" text-anchor="middle" font-size="37.2">16</text>
<text transform="translate(1140.3,848.3) scale(1,1.06)" text-anchor="middle" font-size="37.2">17</text>
<text transform="translate(1199.3,891.2) scale(1,1.0)" text-anchor="middle" font-size="45.3">18</text>
<text transform="translate(1258.4,848.3) scale(1,1.06)" text-anchor="middle" font-size="37.2">19</text>
<text transform="translate(1317.4,848.3) scale(1,1.06)" text-anchor="middle" font-size="37.2">20</text>
<text transform="translate(1376.5,891.2) scale(1,1.0)" text-anchor="middle" font-size="45.3">21</text>
<text transform="translate(1435.5,848.3) scale(1,1.06)" text-anchor="middle" font-size="37.2">22</text>
<text transform="translate(1494.6,848.3) scale(1,1.06)" text-anchor="middle" font-size="37.2">23</text>
<text transform="translate(1553.6,891.2) scale(1,1.0)" text-anchor="middle" font-size="45.3">24</text>
<text x="845" y="949" text-anchor="middle" font-size="50">Local time</text>
<text transform="translate(37.5,500) rotate(-90)" text-anchor="middle" font-size="50">Sensor distance (m)</text>
</svg>
</body></html>
